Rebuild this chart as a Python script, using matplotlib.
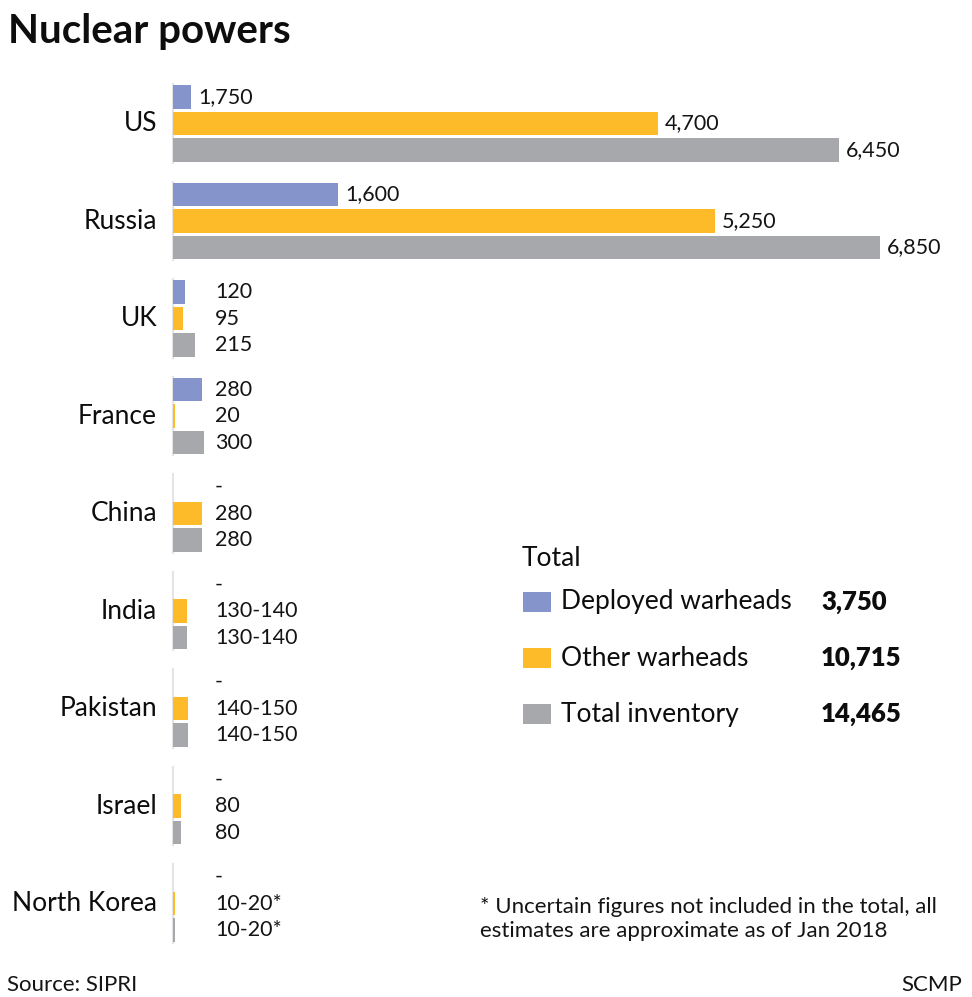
import matplotlib
matplotlib.use("Agg")
import matplotlib.pyplot as plt
from matplotlib.patches import Rectangle

plt.rcParams["font.family"] = ["Lato", "DejaVu Sans"]

# ---- data ----
countries = ["US", "Russia", "UK", "France", "China", "India",
             "Pakistan", "Israel", "North Korea"]

# bar lengths as drawn in the source graphic (US deployed bar is drawn short)
deployed_bars = [175, 1600, 120, 280, 0, 0, 0, 0, 0]
other_bars = [4700, 5250, 95, 20, 280, 135, 145, 80, 15]
total_bars = [6450, 6850, 215, 300, 280, 135, 145, 80, 15]

deployed_labels = ["1,750", "1,600", "120", "280", "-", "-", "-", "-", "-"]
other_labels = ["4,700", "5,250", "95", "20", "280", "130-140", "140-150",
                "80", "10-20*"]
total_labels = ["6,450", "6,850", "215", "300", "280", "130-140", "140-150",
                "80", "10-20*"]

legend_names = ["Deployed warheads", "Other warheads", "Total inventory"]
legend_totals = ["3,750", "10,715", "14,465"]

# ---- style ----
c_deployed = "#8594cb"
c_other = "#fdbb29"
c_total = "#a7a8ab"
colors = [c_deployed, c_other, c_total]

W, H = 972, 997
X0 = 173            # pixel x of the zero line
SCALE = 0.1032      # pixels per warhead
GROUP_STEP = 97.5
BAR_STEP = 26.5
BAR_H = 23.5
FIRST_Y = 97


def fx(px):
    return px / W


def fy(py):
    return 1 - py / H


fig = plt.figure(figsize=(W / 100, H / 100), dpi=100)
ax = fig.add_axes([0, 0, 1, 1])
ax.set_xlim(-X0 / SCALE, (W - X0) / SCALE)
ax.set_ylim(H, 0)
ax.axis("off")

series_bars = [deployed_bars, other_bars, total_bars]
series_labels = [deployed_labels, other_labels, total_labels]
label_col = (215 - X0) / SCALE

for i, country in enumerate(countries):
    g_y = FIRST_Y + GROUP_STEP * i
    # big groups get their labels at the bar ends, others in a column
    big_group = total_bars[i] > 1000

    # faint baseline behind the bars of each group
    ax.plot([0, 0], [g_y - BAR_H / 2 - 1, g_y + 2 * BAR_STEP + BAR_H / 2 + 1],
            color="#e4e4e6", linewidth=1.5, zorder=1)

    for j in range(3):
        y = g_y + BAR_STEP * j
        val = series_bars[j][i]
        ax.barh(y, val, height=BAR_H, color=colors[j], linewidth=0,
                zorder=2)
        txt = series_labels[j][i]
        if big_group:
            ax.annotate(txt, xy=(val, y), xytext=(7, 0),
                        textcoords="offset pixels", ha="left", va="center",
                        fontsize=15.5, color="#141414")
        else:
            ax.text(label_col, y, txt, ha="left", va="center",
                    fontsize=15.5, color="#141414")

    ax.text(-16 / SCALE, g_y + BAR_STEP, country, ha="right", va="center",
            fontsize=19, color="#0d0d0d")

# ---- title ----
fig.text(fx(8), fy(43), "Nuclear powers", ha="left", va="baseline",
         fontsize=29, fontweight="bold", color="#0d0d0d")

# ---- legend block ----
fig.text(fx(522), fy(566), "Total", ha="left", va="baseline",
         fontsize=19, color="#0d0d0d")
for k in range(3):
    cy = 602 + 56 * k
    fig.patches.append(Rectangle((fx(523), fy(cy + 10)), fx(28), 20 / H,
                                 transform=fig.transFigure,
                                 facecolor=colors[k], edgecolor="none"))
    fig.text(fx(561), fy(cy), legend_names[k], ha="left", va="center",
             fontsize=19, color="#0d0d0d")
    fig.text(fx(821), fy(cy), legend_totals[k], ha="left", va="center",
             fontsize=18.5, fontweight="heavy", color="#0d0d0d")

# ---- footnote and credits ----
fig.text(fx(480), fy(913), "* Uncertain figures not included in the total, all",
         ha="left", va="baseline", fontsize=16, color="#141414")
fig.text(fx(480), fy(937), "estimates are approximate as of Jan 2018",
         ha="left", va="baseline", fontsize=16, color="#141414")
fig.text(fx(7), fy(991), "Source: SIPRI", ha="left", va="baseline",
         fontsize=16, color="#141414")
fig.text(fx(962), fy(991), "SCMP", ha="right", va="baseline",
         fontsize=16, color="#141414")

fig.savefig("out.png", dpi=100, facecolor="white")
